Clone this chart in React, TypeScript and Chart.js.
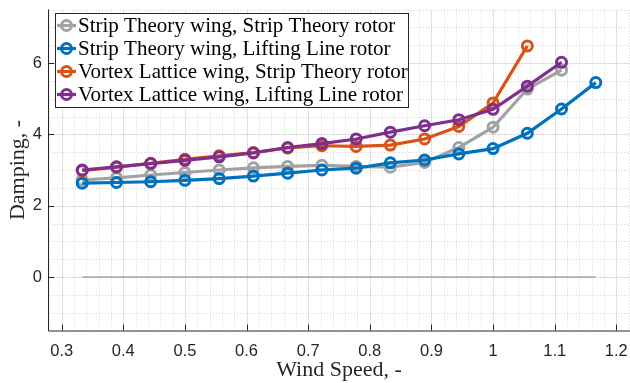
import React, { useEffect, useRef } from "react";
import { Chart, registerables } from "chart.js";

Chart.register(...registerables);

// ---- Data ----
const windSpeed = [
  0.3333, 0.3889, 0.4444, 0.5, 0.5556, 0.6111, 0.6667, 0.7222,
  0.7778, 0.8333, 0.8889, 0.9444, 1.0, 1.0556, 1.1111, 1.1667,
];
const stripStrip = [2.72, 2.78, 2.86, 2.93, 3.0, 3.06, 3.1, 3.13, 3.1, 3.08, 3.21, 3.63, 4.2, 5.27, 5.8];
const stripLifting = [2.63, 2.65, 2.67, 2.71, 2.76, 2.83, 2.91, 3.0, 3.05, 3.2, 3.28, 3.45, 3.6, 4.03, 4.71, 5.45];
const vortexStrip = [2.98, 3.08, 3.19, 3.3, 3.4, 3.49, 3.62, 3.68, 3.66, 3.7, 3.87, 4.22, 4.88, 6.48];
const vortexLifting = [3.0, 3.09, 3.18, 3.27, 3.37, 3.48, 3.63, 3.74, 3.87, 4.06, 4.24, 4.41, 4.7, 5.35, 6.02];
const zeroLineX = [0.3333, 1.1667];
const zeroLineY = [0, 0];

const xTickValues = [0.3, 0.4, 0.5, 0.6, 0.7, 0.8, 0.9, 1, 1.1, 1.2];
const yTickValues = [0, 2, 4, 6];

const seriesLabels = [
  "Strip Theory wing, Strip Theory rotor",
  "Strip Theory wing, Lifting Line rotor",
  "Vortex Lattice wing, Strip Theory rotor",
  "Vortex Lattice wing, Lifting Line rotor",
];
const seriesColors = ["#a2a2a2", "#0072BD", "#D95319", "#7E2F8E"];

const AXIS_COLOR = "#262626";
const SERIF = "'Liberation Serif', 'Times New Roman', serif";
const SANS = "'Liberation Sans', Arial, sans-serif";

const toPoints = (xs: number[], ys: number[]) => ys.map((v, i) => ({ x: xs[i], y: v }));

const matlabPlugin = {
  id: "matlabAxes",
  beforeDatasetsDraw(chart: any) {
    const { ctx, chartArea: a, scales } = chart;
    const x = scales.x;
    const y = scales.y;
    ctx.save();
    ctx.beginPath();
    ctx.rect(a.left, a.top, a.right - a.left, a.bottom - a.top);
    ctx.clip();
    // minor grid (dotted)
    ctx.strokeStyle = "rgba(0,0,0,0.17)";
    ctx.lineWidth = 1;
    ctx.setLineDash([1, 2]);
    ctx.beginPath();
    for (let i = Math.ceil(x.min / 0.02 - 1e-6); i * 0.02 <= x.max + 1e-9; i++) {
      const px = Math.round(x.getPixelForValue(i * 0.02)) + 0.5;
      ctx.moveTo(px, a.top);
      ctx.lineTo(px, a.bottom);
    }
    for (let i = Math.ceil(y.min / 0.5 - 1e-6); i * 0.5 <= y.max + 1e-9; i++) {
      const py = Math.round(y.getPixelForValue(i * 0.5)) + 0.5;
      ctx.moveTo(a.left, py);
      ctx.lineTo(a.right, py);
    }
    ctx.stroke();
    // major grid (solid, faint)
    ctx.setLineDash([]);
    ctx.strokeStyle = "rgba(0,0,0,0.07)";
    ctx.beginPath();
    xTickValues.forEach((v) => {
      const px = Math.round(x.getPixelForValue(v)) + 0.5;
      ctx.moveTo(px, a.top);
      ctx.lineTo(px, a.bottom);
    });
    yTickValues.forEach((v) => {
      const py = Math.round(y.getPixelForValue(v)) + 0.5;
      ctx.moveTo(a.left, py);
      ctx.lineTo(a.right, py);
    });
    ctx.stroke();
    ctx.restore();
  },
  afterDraw(chart: any) {
    const { ctx, chartArea: a, scales } = chart;
    const x = scales.x;
    const y = scales.y;
    ctx.save();
    // axis lines
    ctx.strokeStyle = AXIS_COLOR;
    ctx.lineWidth = 1;
    ctx.beginPath();
    ctx.moveTo(a.left + 0.5, a.top);
    ctx.lineTo(a.left + 0.5, a.bottom + 0.5);
    ctx.lineTo(a.right, a.bottom + 0.5);
    ctx.stroke();
    // inward ticks
    ctx.beginPath();
    xTickValues.forEach((v) => {
      const px = Math.round(x.getPixelForValue(v)) + 0.5;
      ctx.moveTo(px, a.bottom);
      ctx.lineTo(px, a.bottom - 6);
    });
    yTickValues.forEach((v) => {
      const py = Math.round(y.getPixelForValue(v)) + 0.5;
      ctx.moveTo(a.left, py);
      ctx.lineTo(a.left + 6, py);
    });
    ctx.stroke();

    // legend
    const lx = 55.5, ly = 13.5, lw = 353, lh = 94;
    ctx.fillStyle = "#ffffff";
    ctx.fillRect(lx, ly, lw, lh);
    ctx.strokeStyle = AXIS_COLOR;
    ctx.lineWidth = 1;
    ctx.strokeRect(lx, ly, lw, lh);
    ctx.font = `21px ${SERIF}`;
    ctx.textBaseline = "middle";
    ctx.textAlign = "left";
    seriesLabels.forEach((label, i) => {
      const cy = 25.5 + i * 23;
      const color = seriesColors[i];
      ctx.strokeStyle = color;
      ctx.lineWidth = 3.2;
      ctx.beginPath();
      ctx.moveTo(57, cy);
      ctx.lineTo(76, cy);
      ctx.stroke();
      ctx.lineWidth = 3;
      ctx.beginPath();
      ctx.arc(66.5, cy, 5, 0, Math.PI * 2);
      ctx.stroke();
      ctx.fillStyle = "#000000";
      ctx.fillText(label, 78, cy + 1);
    });
    ctx.restore();
  },
};

export default function App() {
  const canvasRef = useRef<HTMLCanvasElement | null>(null);

  useEffect(() => {
    document.body.style.margin = "0";
    const canvas = canvasRef.current;
    if (!canvas) return;

    const lineDs = (label: string, data: number[], color: string, order: number) => ({
      label,
      data: toPoints(windSpeed, data),
      borderColor: color,
      backgroundColor: color,
      borderWidth: 3.2,
      pointRadius: 5,
      pointBorderWidth: 3,
      pointBackgroundColor: "rgba(0,0,0,0)",
      pointBorderColor: color,
      pointHoverRadius: 5,
      tension: 0,
      order,
    });

    const chart = new Chart(canvas, {
      type: "line",
      data: {
        datasets: [
          lineDs(seriesLabels[0], stripStrip, seriesColors[0], 4),
          lineDs(seriesLabels[1], stripLifting, seriesColors[1], 3),
          lineDs(seriesLabels[2], vortexStrip, seriesColors[2], 2),
          lineDs(seriesLabels[3], vortexLifting, seriesColors[3], 1),
          {
            label: "zero",
            data: toPoints(zeroLineX, zeroLineY),
            borderColor: "rgba(140,140,140,0.75)",
            borderWidth: 1.3,
            pointRadius: 0,
            order: 5,
          } as any,
        ],
      },
      options: {
        animation: false,
        responsive: false,
        maintainAspectRatio: false,
        layout: { autoPadding: false, padding: { top: 9.5, right: 0, left: 0, bottom: 0 } },
        plugins: {
          legend: { display: false },
          tooltip: { enabled: false },
        },
        scales: {
          x: {
            type: "linear",
            min: 5 / 18,
            max: 22 / 18,
            grid: { display: false, drawTicks: false },
            border: { display: false },
            afterBuildTicks: (s: any) => {
              s.ticks = xTickValues.map((v) => ({ value: v }));
            },
            ticks: {
              autoSkip: false,
              maxRotation: 0,
              padding: 11,
              color: AXIS_COLOR,
              font: { family: SANS, size: 16.5 },
              callback: (v: any) => String(Math.round(v * 10) / 10),
            },
            title: {
              display: true,
              text: "Wind Speed, -",
              color: AXIS_COLOR,
              font: { family: SERIF, size: 22 },
              padding: { top: 0, bottom: 0 },
            },
            afterFit: (s: any) => {
              s.height = 52.5;
              s.paddingLeft = 0;
              s.paddingRight = 0;
            },
          },
          y: {
            type: "linear",
            min: -1.5,
            max: 7.5,
            grid: { display: false, drawTicks: false },
            border: { display: false },
            afterBuildTicks: (s: any) => {
              s.ticks = yTickValues.map((v) => ({ value: v }));
            },
            ticks: {
              autoSkip: false,
              padding: 6,
              color: AXIS_COLOR,
              font: { family: SANS, size: 16.5 },
              callback: (v: any) => String(v),
            },
            title: {
              display: true,
              text: "Damping, -",
              color: AXIS_COLOR,
              font: { family: SERIF, size: 22 },
              padding: { top: 5, bottom: 0 },
            },
            afterFit: (s: any) => {
              s.width = 48;
              s.paddingTop = 0;
              s.paddingBottom = 0;
            },
          },
        },
      } as any,
      plugins: [matlabPlugin],
    });

    return () => {
      chart.destroy();
    };
  }, []);

  return (
    <div style={{ width: 630, height: 383, position: "relative" }}>
      <canvas ref={canvasRef} width={630} height={383} style={{ display: "block" }} />
    </div>
  );
}
